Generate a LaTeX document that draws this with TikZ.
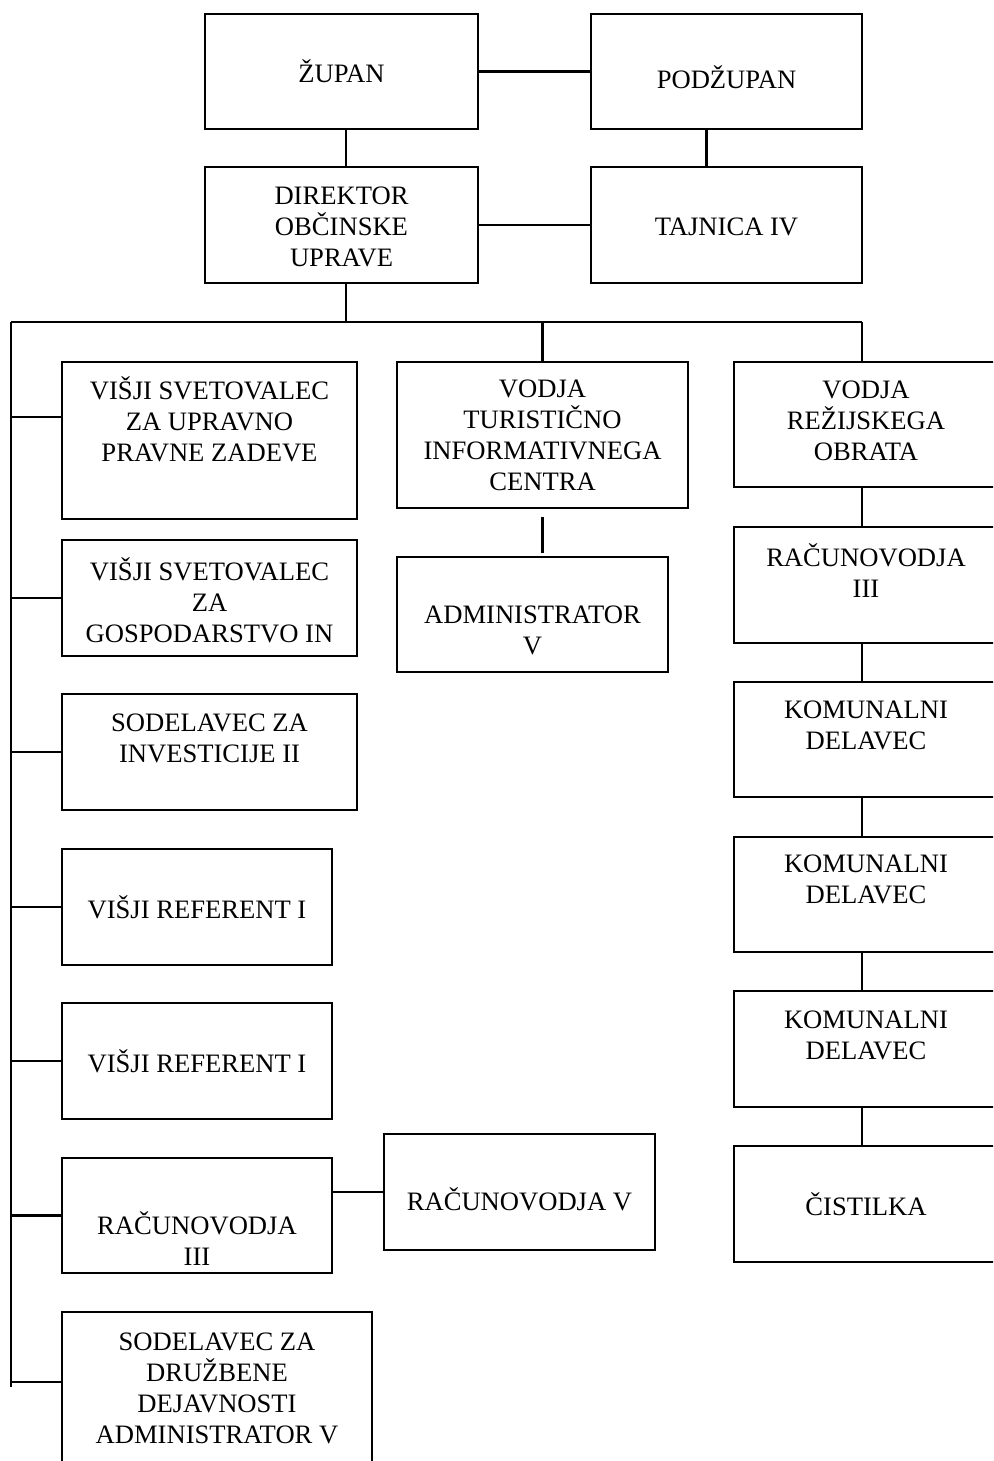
\documentclass[tikz,border=0pt]{standalone}
\usepackage{fontspec}
\setmainfont{Liberation Serif}
\begin{document}
\begin{tikzpicture}[
    x=0.5pt, y=-0.5pt,
    box/.style={rectangle, draw, line width=1.1pt, inner sep=0pt},
    txt/.style={align=center, inner sep=0pt, font={\fontsize{13.3pt}{15.5pt}\selectfont}},
    link/.style={line width=1.1pt}
]
\useasboundingbox (0,0) rectangle (993,1461);
\clip (0,0) rectangle (993,1461);

% Top
\node[box, minimum width=136.5pt, minimum height=57.5pt] (zupan) at (341.5,71.5) {};
\node[txt] (zupan-t) at (zupan) {ŽUPAN};
\node[box, minimum width=135.5pt, minimum height=57.5pt] (podzupan) at (726.5,71.5) {};
\node[txt, yshift=-3pt] (podzupan-t) at (podzupan) {PODŽUPAN};
\node[box, minimum width=136.5pt, minimum height=58pt] (direktor) at (341.5,225) {};
\node[txt, yshift=-1pt] (direktor-t) at (direktor) {DIREKTOR\\OBČINSKE\\UPRAVE};
\node[box, minimum width=135.5pt, minimum height=58pt] (tajnica) at (726.5,225) {};
\node[txt, yshift=-1pt] (tajnica-t) at (tajnica) {TAJNICA IV};

% Left column
\node[box, minimum width=147.5pt, minimum height=78.5pt] (svpravo) at (209.5,440.5) {};
\node[txt, yshift=10.75pt] (svpravo-t) at (svpravo) {VIŠJI SVETOVALEC\\ZA UPRAVNO\\PRAVNE ZADEVE};
\node[box, minimum width=147.5pt, minimum height=58pt] (svgosp) at (209.5,598) {};
\node[txt, yshift=-1pt] (svgosp-t) at (svgosp) {VIŠJI SVETOVALEC\\ZA\\GOSPODARSTVO IN};
\node[box, minimum width=147.5pt, minimum height=58pt] (sodinv) at (209.5,752) {};
\node[txt, yshift=7pt] (sodinv-t) at (sodinv) {SODELAVEC ZA\\INVESTICIJE II};
\node[box, minimum width=135pt, minimum height=58pt] (ref1) at (197,907) {};
\node[txt] (ref1-t) at (ref1) {VIŠJI REFERENT I};
\node[box, minimum width=135pt, minimum height=58pt] (ref2) at (197,1061) {};
\node[txt] (ref2-t) at (ref2) {VIŠJI REFERENT I};
\node[box, minimum width=135pt, minimum height=57.5pt] (racl) at (197,1215.5) {};
\node[txt, yshift=-11.5pt] (racl-t) at (racl) {RAČUNOVODJA\\III};
\node[box, minimum width=135.5pt, minimum height=58pt] (racv) at (519.5,1192) {};
\node[txt, yshift=-3.5pt] (racv-t) at (racv) {RAČUNOVODJA V};
\node[box, minimum width=155pt, minimum height=81.5pt] (sodruz) at (217,1393.5) {};
\node[txt, yshift=2.5pt] (sodruz-t) at (sodruz) {SODELAVEC ZA\\DRUŽBENE\\DEJAVNOSTI\\ADMINISTRATOR V};

% Middle column
\node[box, minimum width=145.5pt, minimum height=73pt] (tic) at (542.5,435) {};
\node[txt] (tic-t) at (tic) {VODJA\\TURISTIČNO\\INFORMATIVNEGA\\CENTRA};
\node[box, minimum width=135.5pt, minimum height=57.5pt] (admin) at (532.5,614.5) {};
\node[txt, yshift=-8pt] (admin-t) at (admin) {ADMINISTRATOR\\V};

% Right column
\node[box, minimum width=132pt, minimum height=62.5pt] (obrat) at (866,424.5) {};
\node[txt, yshift=1.75pt] (obrat-t) at (obrat) {VODJA\\REŽIJSKEGA\\OBRATA};
\node[box, minimum width=132pt, minimum height=58pt] (racr) at (866,585) {};
\node[txt, yshift=7pt] (racr-t) at (racr) {RAČUNOVODJA\\III};
\node[box, minimum width=132pt, minimum height=57.5pt] (kom1) at (866,739.5) {};
\node[txt, yshift=7pt] (kom1-t) at (kom1) {KOMUNALNI\\DELAVEC};
\node[box, minimum width=132pt, minimum height=57.5pt] (kom2) at (866,894.5) {};
\node[txt, yshift=7.5pt] (kom2-t) at (kom2) {KOMUNALNI\\DELAVEC};
\node[box, minimum width=132pt, minimum height=58pt] (kom3) at (866,1049) {};
\node[txt, yshift=6.75pt] (kom3-t) at (kom3) {KOMUNALNI\\DELAVEC};
\node[box, minimum width=132pt, minimum height=58pt] (cist) at (866,1204) {};
\node[txt] (cist-t) at (cist) {ČISTILKA};

% Bus coordinates
\coordinate (dirj) at (346,322);
\coordinate (busl) at (11,322);
\coordinate (busr) at (862,322);
\coordinate (spine) at (11,1387);
\coordinate (svpravo-in) at ([yshift=11.75pt]svpravo.west);
\coordinate (sodruz-in) at ([yshift=5.75pt]sodruz.west);

% Top links
\draw[link] (zupan.east) -- (podzupan.west);
\draw[link] (direktor.east) -- (tajnica.west);
\draw[link] (zupan.south -| dirj) -- (direktor.north -| dirj);
\draw[link] ([xshift=-10pt]podzupan.south) -- ([xshift=-10pt]tajnica.north);
\draw[link] (direktor.south -| dirj) -- (dirj);

% Bus and spine
\draw[link] (busl) -- (busr);
\draw[link] (busl) -- (spine);
\draw[link] (svpravo-in) -- (svpravo-in -| busl);
\draw[link] (svgosp.west) -- (svgosp.west -| busl);
\draw[link] (sodinv.west) -- (sodinv.west -| busl);
\draw[link] (ref1.west) -- (ref1.west -| busl);
\draw[link] (ref2.west) -- (ref2.west -| busl);
\draw[link] (racl.west) -- (racl.west -| busl);
\draw[link] (sodruz-in) -- (sodruz-in -| busl);
\draw[link] (racv.west) -- (racv.west -| racl.east);

% Middle and right links
\draw[link] (tic.north) -- (tic.north |- busl);
\draw[link, shorten <=4pt, shorten >=1.5pt] (tic.south) -- (tic.south |- admin.north);
\draw[link] (obrat.north -| busr) -- (busr);
\draw[link] (obrat.south -| busr) -- (racr.north -| busr);
\draw[link] (racr.south -| busr) -- (kom1.north -| busr);
\draw[link] (kom1.south -| busr) -- (kom2.north -| busr);
\draw[link] (kom2.south -| busr) -- (kom3.north -| busr);
\draw[link] (kom3.south -| busr) -- (cist.north -| busr);
\end{tikzpicture}
\end{document}
